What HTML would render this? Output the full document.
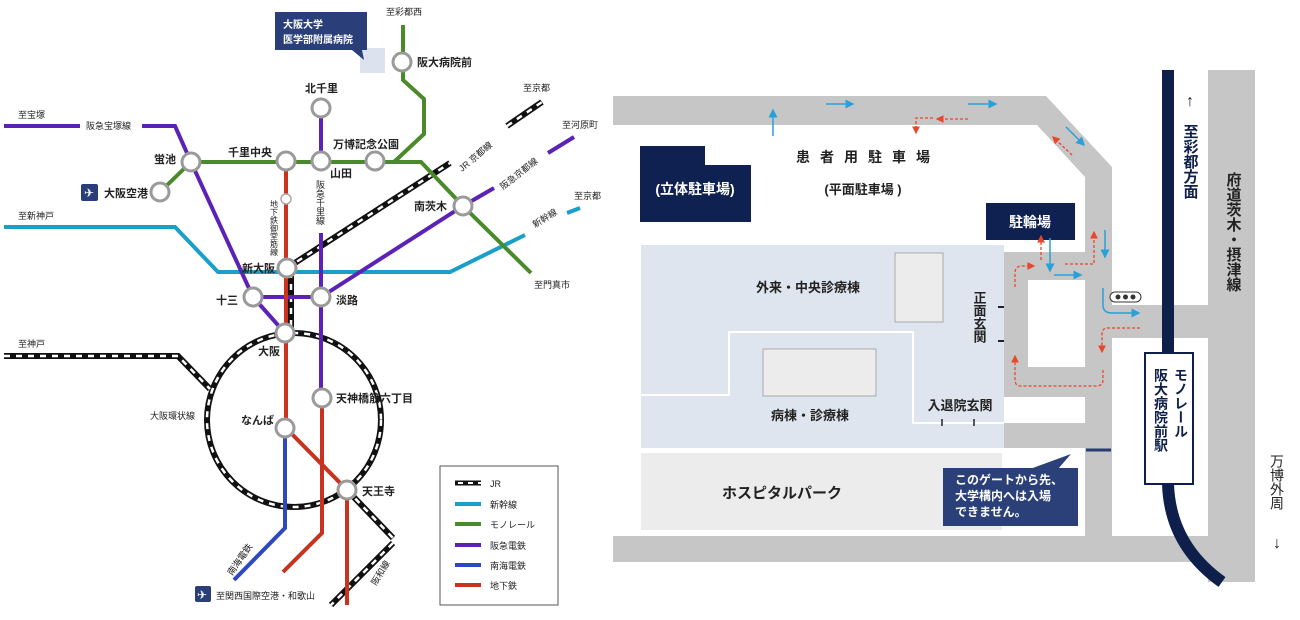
<!DOCTYPE html>
<html><head><meta charset="utf-8"><style>
html,body{margin:0;padding:0;background:#fff;}
svg{display:block;font-family:"Liberation Sans","Noto Sans CJK JP",sans-serif;}
.s{fill:#fff;stroke:#9a9a9a;stroke-width:3}
.t{font-size:11px;font-weight:bold;fill:#222}
.ts{font-size:9px;fill:#222}
</style></head><body>
<svg width="1300" height="620" viewBox="0 0 1300 620">
<defs>
<marker id="ab" markerWidth="6" markerHeight="6" refX="5" refY="3" orient="auto"><path d="M0,0 L6,3 L0,6 z" fill="#2aa0d8"/></marker>
<marker id="ar" markerWidth="6" markerHeight="6" refX="5" refY="3" orient="auto"><path d="M0,0 L6,3 L0,6 z" fill="#e8472c"/></marker>
</defs>
<!-- ============ LEFT MAP ============ -->
<!-- JR lines -->
<g fill="none" stroke-linecap="butt">
<circle cx="294" cy="420" r="87" stroke="#111" stroke-width="6"/>
<circle cx="294" cy="420" r="87" stroke="#fff" stroke-width="2.5" stroke-dasharray="6 6"/>
<polyline points="4,356 178,356 210,389" stroke="#111" stroke-width="6"/>
<polyline points="4,356 178,356 210,389" stroke="#fff" stroke-width="2.5" stroke-dasharray="6 6"/>
<polyline points="347,490 393,538" stroke="#111" stroke-width="6"/>
<polyline points="347,490 393,538" stroke="#fff" stroke-width="2.5" stroke-dasharray="6 6"/>
<polyline points="393,543 331,605" stroke="#111" stroke-width="6"/>
<polyline points="393,543 331,605" stroke="#fff" stroke-width="2.5" stroke-dasharray="6 6"/>
<polyline points="287,268 450,163" stroke="#111" stroke-width="6"/>
<polyline points="287,268 450,163" stroke="#fff" stroke-width="2.5" stroke-dasharray="6 6"/>
<polyline points="507,126 542,102" stroke="#111" stroke-width="6"/>
<polyline points="507,126 542,102" stroke="#fff" stroke-width="2.5" stroke-dasharray="6 6"/>
<polyline points="291,272 291,330" stroke="#111" stroke-width="6"/>
<polyline points="291,272 291,330" stroke="#fff" stroke-width="2.5" stroke-dasharray="6 6"/>
</g>
<!-- shinkansen -->
<g fill="none" stroke="#1aa0c8" stroke-width="4">
<polyline points="4,227 175,227 218,272 450,272 525,235"/>
<polyline points="567,213 580,208"/>
</g>
<!-- green monorail -->
<g fill="none" stroke="#4a8a2a" stroke-width="4">
<polyline points="403,25 403,80 424,99 424,134 394,162"/>
<polyline points="191,162 421,162 463,206 531,273"/>
<polyline points="191,162 160,192"/>
</g>
<!-- purple -->
<g fill="none" stroke="#5b22b5" stroke-width="4">
<polyline points="4,126 80,126"/>
<polyline points="142,126 175,126 191,162 253,297 285,333"/>
<polyline points="321,108 321,170"/>
<polyline points="321,233 321,398"/>
<polyline points="253,297 321,297 463,206 494,188"/>
<polyline points="548,153 574,137"/>
</g>
<!-- red -->
<g fill="none" stroke="#c8321e" stroke-width="4">
<polyline points="286,161 286,428 347,490 347,605"/>
<polyline points="322,398 322,533 283,572"/>
</g>
<!-- blue nankai -->
<polyline points="285,428 285,528 234,580" fill="none" stroke="#2f48c0" stroke-width="4"/>
<!-- stations -->
<circle class="s" cx="402" cy="62" r="9"/>
<circle class="s" cx="191" cy="162" r="9"/>
<circle class="s" cx="160" cy="192" r="9"/>
<circle class="s" cx="286" cy="161" r="9"/>
<circle class="s" cx="321" cy="161" r="9"/>
<circle class="s" cx="375" cy="161" r="9"/>
<circle class="s" cx="321" cy="108" r="9"/>
<circle class="s" cx="463" cy="206" r="9"/>
<circle class="s" cx="287" cy="268" r="9"/>
<circle class="s" cx="253" cy="297" r="9"/>
<circle class="s" cx="321" cy="297" r="9"/>
<circle class="s" cx="285" cy="333" r="9"/>
<circle class="s" cx="322" cy="398" r="9"/>
<circle class="s" cx="285" cy="428" r="9"/>
<circle class="s" cx="347" cy="490" r="9"/>
<circle cx="286" cy="199" r="5" fill="#fff" stroke="#aaa" stroke-width="1.5"/>
<!-- callout -->
<rect x="360" y="48" width="25" height="25" fill="#dde3ee"/>
<rect x="275" y="12" width="92" height="38" fill="#2a3f7a"/>
<polygon points="352,50 362,50 364,60" fill="#2a3f7a"/>
<text x="283" y="28" font-size="10" font-weight="bold" fill="#fff">大阪大学</text>
<text x="283" y="43" font-size="10" font-weight="bold" fill="#fff">医学部附属病院</text>
<!-- labels -->
<text class="ts" x="386" y="15">至彩都西</text>
<text class="t" x="417" y="66">阪大病院前</text>
<text class="t" x="305" y="92">北千里</text>
<text class="t" x="333" y="148">万博記念公園</text>
<text class="t" x="228" y="156">千里中央</text>
<text class="t" x="154" y="163">蛍池</text>
<text class="t" x="330" y="177">山田</text>
<rect x="81" y="184" width="17" height="17" rx="2" fill="#2a3f7a"/>
<text x="84" y="197" font-size="12" fill="#fff">✈</text>
<text class="t" x="104" y="197">大阪空港</text>
<text class="ts" x="18" y="118">至宝塚</text>
<text class="ts" x="86" y="129">阪急宝塚線</text>
<text class="ts" x="18" y="219">至新神戸</text>
<text class="t" x="414" y="210">南茨木</text>
<text class="ts" x="523" y="91">至京都</text>
<text class="ts" x="562" y="128">至河原町</text>
<text class="ts" x="574" y="199">至京都</text>
<text class="ts" x="534" y="288">至門真市</text>
<text class="ts" transform="translate(462,172) rotate(-40)">JR 京都線</text>
<text class="ts" transform="translate(503,190) rotate(-38)">阪急京都線</text>
<text class="ts" transform="translate(535,228) rotate(-32)">新幹線</text>
<text class="ts" writing-mode="tb" x="320" y="180" style="writing-mode:vertical-rl">阪急千里線</text>
<text writing-mode="tb" x="274" y="200" font-size="8" fill="#222" style="writing-mode:vertical-rl">地下鉄御堂筋線</text>
<text class="t" x="242" y="272">新大阪</text>
<text class="t" x="216" y="304">十三</text>
<text class="t" x="336" y="304">淡路</text>
<text class="t" x="258" y="355">大阪</text>
<text class="ts" x="18" y="347">至神戸</text>
<text class="ts" x="150" y="419">大阪環状線</text>
<text class="t" x="336" y="402">天神橋筋六丁目</text>
<text class="t" x="241" y="424">なんば</text>
<text class="t" x="362" y="495">天王寺</text>
<text class="ts" transform="translate(232,576) rotate(-55)">南海電鉄</text>
<text class="ts" transform="translate(376,586) rotate(-58)">阪和線</text>
<rect x="195" y="586" width="16" height="16" rx="2" fill="#2a3f7a"/>
<text x="197" y="599" font-size="12" fill="#fff">✈</text>
<text class="ts" x="216" y="599">至関西国際空港・和歌山</text>
<!-- legend -->
<rect x="440" y="466" width="118" height="139" fill="#fff" stroke="#555" stroke-width="1"/>
<line x1="455" y1="483" x2="481" y2="483" stroke="#111" stroke-width="5"/>
<line x1="455" y1="483" x2="481" y2="483" stroke="#fff" stroke-width="2" stroke-dasharray="5 5" stroke-dashoffset="-3"/>
<line x1="455" y1="504" x2="481" y2="504" stroke="#1aa0c8" stroke-width="4"/>
<line x1="455" y1="524" x2="481" y2="524" stroke="#4a8a2a" stroke-width="4"/>
<line x1="455" y1="545" x2="481" y2="545" stroke="#5b22b5" stroke-width="4"/>
<line x1="455" y1="565" x2="481" y2="565" stroke="#2f48c0" stroke-width="4"/>
<line x1="455" y1="585" x2="481" y2="585" stroke="#c8321e" stroke-width="4"/>
<text class="ts" x="490" y="487">JR</text>
<text class="ts" x="490" y="508">新幹線</text>
<text class="ts" x="490" y="528">モノレール</text>
<text class="ts" x="490" y="549">阪急電鉄</text>
<text class="ts" x="490" y="569">南海電鉄</text>
<text class="ts" x="490" y="589">地下鉄</text>

<!-- ============ RIGHT MAP ============ -->
<g fill="#c6c6c6">
<polygon points="613,96 1046,96 1112,167 1112,305 1208,305 1208,70 1255,70 1255,582 1208,582 1208,338 1112,338 1112,536 1255,536 1255,562 613,562 613,536 1085,536 1085,448 1004,448 1004,252 1085,252 1085,177 1037,125 613,125"/>
</g>
<rect x="1028" y="280" width="57" height="87" fill="#fff"/>
<rect x="1004" y="397" width="81" height="26" fill="#fff"/>
<!-- hospital area -->
<rect x="641" y="245" width="363" height="203" fill="#dfe5ef"/>
<polyline points="641,395 729,395 729,332 913,332 913,423 1004,423" fill="none" stroke="#fff" stroke-width="2"/>
<rect x="895" y="253" width="48" height="69" fill="#ececec" stroke="#aaa" stroke-width="1"/>
<rect x="763" y="349" width="113" height="47" fill="#ececec" stroke="#aaa" stroke-width="1"/>
<text x="808" y="292" font-size="13" font-weight="bold" fill="#222" text-anchor="middle">外来・中央診療棟</text>
<text x="810" y="420" font-size="13" font-weight="bold" fill="#222" text-anchor="middle">病棟・診療棟</text>
<text x="960" y="410" font-size="13" font-weight="bold" fill="#222" text-anchor="middle">入退院玄関</text>
<line x1="942" y1="419" x2="942" y2="426" stroke="#222" stroke-width="1.5"/>
<line x1="974" y1="419" x2="974" y2="426" stroke="#222" stroke-width="1.5"/>
<text x="979" y="291" font-size="13" font-weight="bold" fill="#222" style="writing-mode:vertical-rl">正面玄関</text>
<line x1="998" y1="307" x2="1004" y2="307" stroke="#222" stroke-width="2"/>
<line x1="998" y1="341" x2="1004" y2="341" stroke="#222" stroke-width="2"/>
<!-- park -->
<rect x="641" y="453" width="361" height="77" fill="#ececec"/>
<text x="782" y="498" font-size="15" font-weight="bold" fill="#222" text-anchor="middle">ホスピタルパーク</text>
<line x1="1086" y1="450" x2="1111" y2="450" stroke="#263c77" stroke-width="3"/>
<!-- callout -->
<rect x="943" y="468" width="135" height="58" fill="#2b4078"/>
<polygon points="1030,469 1071,454 1058,469" fill="#2b4078"/>
<text x="955" y="484" font-size="12" font-weight="bold" fill="#fff">このゲートから先、</text>
<text x="955" y="500" font-size="12" font-weight="bold" fill="#fff">大学構内へは入場</text>
<text x="955" y="516" font-size="12" font-weight="bold" fill="#fff">できません。</text>
<!-- parking -->
<polygon points="640,146 705,146 705,165 751,165 751,222 640,222" fill="#0f2150"/>
<text x="695" y="194" font-size="14" font-weight="bold" fill="#fff" text-anchor="middle">(立体駐車場)</text>
<text x="868" y="162" font-size="14" font-weight="bold" fill="#222" text-anchor="middle" letter-spacing="10">患者用駐車場</text>
<text x="863" y="194" font-size="13" font-weight="bold" fill="#222" text-anchor="middle">(平面駐車場 )</text>
<rect x="986" y="203" width="89" height="37" fill="#0f2150"/>
<text x="1030" y="227" font-size="14" font-weight="bold" fill="#fff" text-anchor="middle">駐輪場</text>
<!-- traffic light -->
<rect x="1110" y="292" width="31" height="10" rx="5" fill="#fff" stroke="#333" stroke-width="1"/>
<circle cx="1118" cy="297" r="2.5" fill="#333"/><circle cx="1125.5" cy="297" r="2.5" fill="#333"/><circle cx="1133" cy="297" r="2.5" fill="#333"/>
<!-- monorail -->
<line x1="1168" y1="70" x2="1168" y2="356" stroke="#0d1f4a" stroke-width="12"/>
<path d="M1168,484 Q1170,545 1222,582" fill="none" stroke="#0d1f4a" stroke-width="12"/>
<rect x="1145" y="353" width="48" height="131" fill="#fff" stroke="#0d1f4a" stroke-width="2"/>
<text x="1181" y="368" font-size="14" font-weight="bold" fill="#0d1f4a" style="writing-mode:vertical-rl">モノレール</text>
<text x="1161" y="368" font-size="14" font-weight="bold" fill="#0d1f4a" style="writing-mode:vertical-rl">阪大病院前駅</text>
<!-- side labels -->
<text x="1190" y="106" font-size="16" fill="#0d1f4a" text-anchor="middle">↑</text>
<text x="1190" y="124" font-size="15" font-weight="bold" fill="#0d1f4a" style="writing-mode:vertical-rl">至彩都方面</text>
<text x="1233" y="172" font-size="15" font-weight="bold" fill="#222" style="writing-mode:vertical-rl">府道茨木・摂津線</text>
<text x="1277" y="454" font-size="14" fill="#222" style="writing-mode:vertical-rl">万博外周</text>
<text x="1277" y="548" font-size="16" fill="#222" text-anchor="middle">↓</text>
<!-- cyan arrows -->
<g fill="none" stroke="#2aa0d8" stroke-width="1.5" marker-end="url(#ab)">
<line x1="773" y1="136" x2="773" y2="110"/>
<line x1="826" y1="104" x2="853" y2="104"/>
<line x1="968" y1="104" x2="996" y2="104"/>
<line x1="1066" y1="127" x2="1084" y2="145"/>
<line x1="1050" y1="238" x2="1050" y2="271"/>
<line x1="1054" y1="275" x2="1081" y2="275"/>
<line x1="1105" y1="230" x2="1105" y2="257"/>
<path d="M1103,288 L1103,305 Q1103,313 1112,313 L1139,313"/>
</g>
<!-- red dashed arrows -->
<g fill="none" stroke="#e8472c" stroke-width="1.3" stroke-dasharray="3 2" marker-end="url(#ar)">
<path d="M933,118 L916,118 L916,133"/>
<line x1="968" y1="119" x2="937" y2="119"/>
<line x1="1072" y1="155" x2="1053" y2="137"/>
<line x1="1041" y1="260" x2="1041" y2="236"/>
<path d="M1015,287 L1015,273 Q1015,266 1022,266 L1034,266"/>
<path d="M1065,264 L1094,264 L1094,232"/>
<path d="M1140,328 L1108,328 Q1102,328 1102,334 L1102,352"/>
<path d="M1103,370 L1103,380 Q1103,386 1096,386 L1021,386 Q1015,386 1015,380 L1015,356"/>
</g>
</svg>
</body></html>
